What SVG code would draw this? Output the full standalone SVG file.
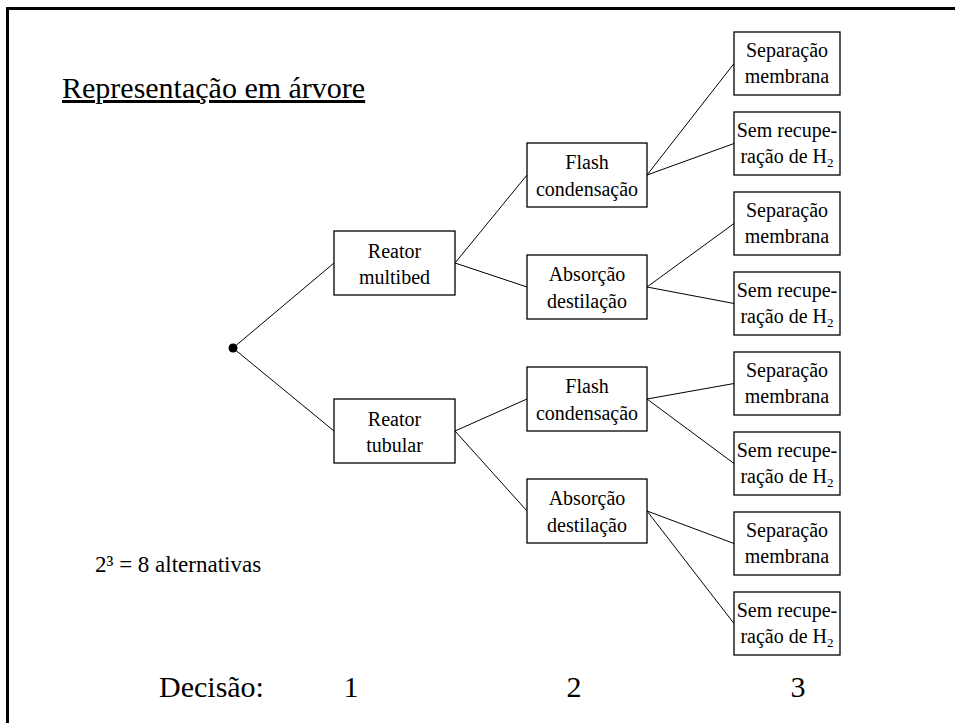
<svg xmlns="http://www.w3.org/2000/svg" width="955" height="723" viewBox="0 0 955 723">
  <style>
    .box { fill: #fff; stroke: #000; stroke-width: 1.3; }
    .lbl { font-size: 20px; text-anchor: middle; }
    .edge { stroke: #000; stroke-width: 1; fill: none; }
  </style>

  <g font-family="Liberation Serif, Times New Roman, DejaVu Serif, serif" fill="#000">
  <!-- slide frame: left and top rules -->
  <path d="M 7.5 723 V 8.5 H 955" fill="none" stroke="#000" stroke-width="3"/>

  <!-- heading -->
  <text x="62" y="98" font-size="30" text-decoration="underline">Representação em árvore</text>

  <!-- connectors -->
  <g id="connectors" class="edge">
    <line x1="233" y1="348" x2="334" y2="263"/>
    <line x1="233" y1="348" x2="334" y2="431"/>
    <line x1="455" y1="263" x2="527" y2="175"/>
    <line x1="455" y1="263" x2="527" y2="287"/>
    <line x1="455" y1="431" x2="527" y2="399"/>
    <line x1="455" y1="431" x2="527" y2="511"/>
    <line x1="647" y1="175" x2="734" y2="63.5"/>
    <line x1="647" y1="175" x2="734" y2="143.5"/>
    <line x1="647" y1="287" x2="734" y2="223.5"/>
    <line x1="647" y1="287" x2="734" y2="303.5"/>
    <line x1="647" y1="399" x2="734" y2="383.5"/>
    <line x1="647" y1="399" x2="734" y2="463.5"/>
    <line x1="647" y1="511" x2="734" y2="543.5"/>
    <line x1="647" y1="511" x2="734" y2="623.5"/>
  </g>

  <!-- root decision point -->
  <g id="root"><circle cx="233" cy="348" r="4.5" fill="#000"/></g>

  <!-- decision 1: reactor -->
  <g id="reator-multibed">
    <rect class="box" x="334" y="231" width="121" height="64"/>
    <text class="lbl" x="394.5" y="258">Reator</text>
    <text class="lbl" x="394.5" y="284">multibed</text>
  </g>
  <g id="reator-tubular">
    <rect class="box" x="334" y="399" width="121" height="64"/>
    <text class="lbl" x="394.5" y="426">Reator</text>
    <text class="lbl" x="394.5" y="452">tubular</text>
  </g>

  <!-- decision 2: separation -->
  <g id="flash-1">
    <rect class="box" x="527" y="143" width="120" height="64"/>
    <text class="lbl" x="587" y="169">Flash</text>
    <text class="lbl" x="587" y="196">condensação</text>
  </g>
  <g id="absorcao-1">
    <rect class="box" x="527" y="255" width="120" height="64"/>
    <text class="lbl" x="587" y="281">Absorção</text>
    <text class="lbl" x="587" y="308">destilação</text>
  </g>
  <g id="flash-2">
    <rect class="box" x="527" y="367" width="120" height="64"/>
    <text class="lbl" x="587" y="393">Flash</text>
    <text class="lbl" x="587" y="420">condensação</text>
  </g>
  <g id="absorcao-2">
    <rect class="box" x="527" y="479" width="120" height="64"/>
    <text class="lbl" x="587" y="505">Absorção</text>
    <text class="lbl" x="587" y="532">destilação</text>
  </g>

  <!-- decision 3: hydrogen recovery -->
  <g id="membrana-1">
    <rect class="box" x="734" y="32" width="106" height="63"/>
    <text class="lbl" x="787" y="57">Separação</text>
    <text class="lbl" x="787" y="83">membrana</text>
  </g>
  <g id="sem-rec-1">
    <rect class="box" x="734" y="112" width="106" height="63"/>
    <text class="lbl" x="787" y="137">Sem recupe-</text>
    <text class="lbl" x="787" y="163">ração de H<tspan font-size="13" dy="4">2</tspan></text>
  </g>
  <g id="membrana-2">
    <rect class="box" x="734" y="192" width="106" height="63"/>
    <text class="lbl" x="787" y="217">Separação</text>
    <text class="lbl" x="787" y="243">membrana</text>
  </g>
  <g id="sem-rec-2">
    <rect class="box" x="734" y="272" width="106" height="63"/>
    <text class="lbl" x="787" y="297">Sem recupe-</text>
    <text class="lbl" x="787" y="323">ração de H<tspan font-size="13" dy="4">2</tspan></text>
  </g>
  <g id="membrana-3">
    <rect class="box" x="734" y="352" width="106" height="63"/>
    <text class="lbl" x="787" y="377">Separação</text>
    <text class="lbl" x="787" y="403">membrana</text>
  </g>
  <g id="sem-rec-3">
    <rect class="box" x="734" y="432" width="106" height="63"/>
    <text class="lbl" x="787" y="457">Sem recupe-</text>
    <text class="lbl" x="787" y="483">ração de H<tspan font-size="13" dy="4">2</tspan></text>
  </g>
  <g id="membrana-4">
    <rect class="box" x="734" y="512" width="106" height="63"/>
    <text class="lbl" x="787" y="537">Separação</text>
    <text class="lbl" x="787" y="563">membrana</text>
  </g>
  <g id="sem-rec-4">
    <rect class="box" x="734" y="592" width="106" height="63"/>
    <text class="lbl" x="787" y="617">Sem recupe-</text>
    <text class="lbl" x="787" y="643">ração de H<tspan font-size="13" dy="4">2</tspan></text>
  </g>

  <!-- count of alternatives -->
  <text x="95" y="572" font-size="23">2³ = 8 alternativas</text>

  <!-- decision level axis -->
  <g id="axis" font-size="30">
    <text x="159" y="697">Decisão:</text>
    <text x="351" y="697" text-anchor="middle">1</text>
    <text x="574" y="697" text-anchor="middle">2</text>
    <text x="798" y="697" text-anchor="middle">3</text>
  </g>
  </g>
</svg>
